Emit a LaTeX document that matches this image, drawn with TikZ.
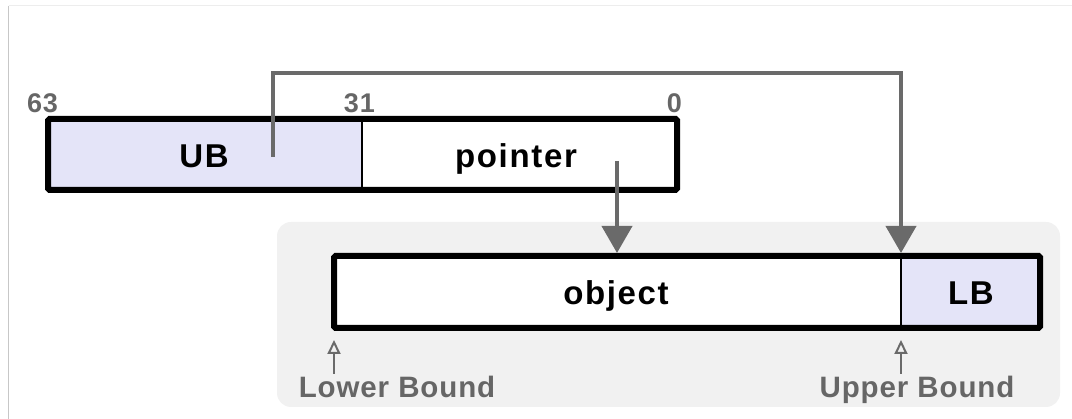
\documentclass[tikz,border=0pt]{standalone}
\usepackage{fontspec}
\setmainfont{Liberation Sans}
\newfontfamily\bigfont[LetterSpace=5]{Liberation Sans Bold}
\newfontfamily\lblfont[LetterSpace=3]{Liberation Sans Bold}
\newfontfamily\numfont[LetterSpace=3]{Liberation Sans Bold}
\usetikzlibrary{arrows.meta}
\definecolor{lav}{HTML}{E4E4F8}
\definecolor{bgg}{HTML}{F1F1F1}
\definecolor{arr}{HTML}{6A6A6A}
\definecolor{txtg}{HTML}{666666}
\tikzset{
  cell/.style={rectangle, inner sep=0pt, outer sep=0pt, draw=none},
  bigtxt/.style={inner sep=0pt, anchor=base, font=\bigfont\fontsize{33}{38}\selectfont, text=black},
  numtxt/.style={inner sep=0pt, anchor=base, font=\numfont\fontsize{27}{32}\selectfont, text=txtg},
  lbltxt/.style={inner sep=0pt, anchor=base, font=\lblfont\fontsize{29.5}{34}\selectfont, text=txtg},
  frame/.style={draw=black, line width=6pt, rounded corners=1.5pt},
  divider/.style={draw=black, line width=1.5pt},
  bigarrow/.style={draw=arr, line width=4pt, -{Triangle[width=30pt,length=27pt]}},
  openarrow/.style={draw=arr, line width=2pt, -{Triangle[open,width=13pt,length=14pt,line width=2pt]}}
}
\begin{document}
\begin{tikzpicture}[x=1pt,y=-1pt]
\useasboundingbox (0,0) rectangle (1072,419);
% page frame lines
\draw[color=black!22, line width=1.5pt] (8.5,6) -- (8.5,419);
\draw[color=black!7, line width=1pt] (8.5,6) -- (1072,6);
% background panel
\fill[bgg, rounded corners=14pt] (277,222) rectangle (1060,407);
% top word
\node[cell, fill=lav, minimum width=314pt, minimum height=71pt] (ub) at (205,154.5) {};
\node[cell, fill=white, minimum width=315pt, minimum height=71pt] (ptr) at (519.5,154.5) {};
\draw[divider] (ub.north east) -- (ub.south east);
\draw[frame] (ub.north west) rectangle (ptr.south east);
% bottom object
\node[cell, fill=white, minimum width=567pt, minimum height=72pt] (obj) at (617.5,292) {};
\node[cell, fill=lav, minimum width=139pt, minimum height=72pt] (lb) at (970.5,292) {};
\draw[divider] (obj.north east) -- (obj.south east);
\draw[frame] (obj.north west) rectangle (lb.south east);
% texts
\node[bigtxt] (ubt) at (204,167.5) {UB};
\node[bigtxt] (ptrt) at (516,167.5) {pointer};
\node[bigtxt] (objt) at (616,305) {object};
\node[bigtxt] (lbt) at (971,305) {LB};
\node[numtxt, anchor=base west] (n63) at (27,113) {63};
\node[numtxt, anchor=base east] (n31) at (375,113) {31};
\node[numtxt, anchor=base east] (n0) at (682,113) {0};
\node[lbltxt] (lowl) at (397,398) {Lower Bound};
\node[lbltxt] (upl) at (917,398) {Upper Bound};
% connectors
\coordinate (ubsrc) at (273,157);
\coordinate (ptrsrc) at (617,161);
\coordinate (topbend) at (273,73);
\draw[bigarrow] (ubsrc) -- (topbend) -- (topbend -| obj.north east) -- ([yshift=3pt]obj.north east);
\draw[bigarrow] (ptrsrc) -- ([yshift=3pt]ptrsrc |- obj.north);
\draw[openarrow] ([yshift=-46pt]obj.south west) -- ([yshift=-12pt]obj.south west);
\draw[openarrow] ([yshift=-46pt]obj.south east) -- ([yshift=-12pt]obj.south east);
\end{tikzpicture}
\end{document}
